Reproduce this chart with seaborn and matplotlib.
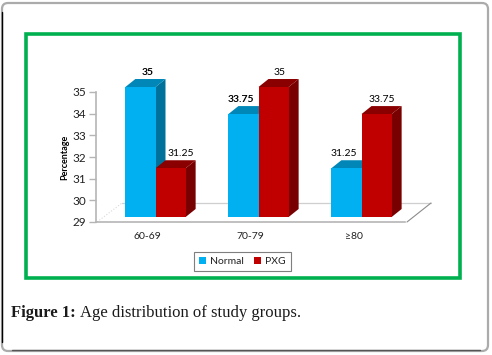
import pandas as pd
import matplotlib
matplotlib.use('Agg')
import matplotlib.pyplot as plt
import seaborn as sns
from matplotlib.patches import FancyBboxPatch, Polygon, Rectangle
from matplotlib.transforms import IdentityTransform

# ── Data ───────────────────────────────────────────────
age_groups = ['60-69', '70-79', '≥80']
normal = [35, 33.75, 31.25]
pxg = [31.25, 35, 33.75]
y_ticks = [29, 30, 31, 32, 33, 34, 35]

W, H = 492, 355
DEPTH_X, DEPTH_Y = 10, 8

df = pd.DataFrame({
    'age': age_groups * 2,
    'pct': normal + pxg,
    'group': ['Normal'] * 3 + ['PXG'] * 3,
})

sns.set_theme(style='white')
plt.rcParams['font.family'] = ['Lato', 'DejaVu Sans']


def px_axes(left, top, right, bottom, **kw):
    # axes placed by pixel box, y counted from the top of the image
    return fig.add_axes([left / W, 1 - bottom / H, (right - left) / W, (bottom - top) / H], **kw)


fig = plt.figure(figsize=(W / 100, H / 100), dpi=100, facecolor='white')

# ── Page frame, green box, floor ───────────────────────
bg = px_axes(0, 0, W, H, zorder=0)
bg.set_xlim(0, W)
bg.set_ylim(H, 0)
bg.axis('off')
bg.add_patch(FancyBboxPatch((7, 8), 476, 338, boxstyle='round,pad=5,rounding_size=6',
                            fc='white', ec='#ababab', lw=1.6, clip_on=False))
bg.plot([2, 2], [12, 342], color='black', lw=1.0)
bg.plot([12, 480], [350, 350], color='#555555', lw=1.0)
bg.add_patch(Rectangle((25.5, 34), 434, 244, fc='white', ec='#00b050', lw=2.6))
bg.plot([122, 431], [203, 203], color='#cfcfcf', lw=0.9)
bg.plot([407, 431], [222, 203], color='#8c8c8c', lw=0.8)
bg.plot([97, 122], [222, 203], color='#d9d9d9', lw=0.8, ls=':')

# ── Back wall: holds the scale and the labels ──────────
wall = px_axes(96, 92, 405, 222, zorder=1)
wall.patch.set_alpha(0)
wall.set_xlim(-0.5, 2.5)
wall.set_ylim(y_ticks[0], y_ticks[-1])
wall.set_xticks(range(len(age_groups)), age_groups)
wall.set_yticks(y_ticks)
wall.tick_params(axis='y', length=5, width=1, color='#b5b5b5', left=True, pad=2, labelsize=8.5, labelcolor='#222222')
wall.tick_params(axis='x', length=0, pad=7, labelsize=7.5, labelcolor='#222222')
wall.set_ylabel('Percentage', fontsize=6.5, fontweight='bold', color='black', labelpad=2)
for side in ['top', 'right']:
    wall.spines[side].set_visible(False)
for side in ['left', 'bottom']:
    wall.spines[side].set_color('#b5b5b5')
    wall.spines[side].set_linewidth(1.2)

# ── Front faces ────────────────────────────────────────
ax = px_axes(104, 87, 413, 217, zorder=2)
ax.patch.set_alpha(0)
sns.barplot(data=df, x='age', y='pct', hue='group', palette=['#00b0f0', '#c00000'],
            width=0.585, gap=0, saturation=1, ax=ax, order=age_groups, zorder=3,
            edgecolor='none', linewidth=0)
ax.set_xlim(-0.5, 2.5)
ax.set_ylim(y_ticks[0], y_ticks[-1])
ax.set_xticks([])
ax.set_yticks([])
ax.set_xlabel('')
ax.set_ylabel('')
sns.despine(ax=ax, left=True, bottom=True)

# ── 3D sides and tops, from the bars' own positions ────
face_colors = [('#0087b8', '#00719a'), ('#8a0000', '#780000')]
label_shift = [[7, -3, -3], [10, 6, 5]]
bold = [[True, True, False], [False, False, False]]

for i, bars in enumerate(ax.containers):
    top_col, side_col = face_colors[i]
    for j, bar in enumerate(bars):
        x0, base = ax.transData.transform((bar.get_x(), y_ticks[0]))
        x1, top = ax.transData.transform((bar.get_x() + bar.get_width(), bar.get_height()))
        ax.add_patch(Polygon([(x1, base), (x1 + DEPTH_X, base + DEPTH_Y), (x1 + DEPTH_X, top + DEPTH_Y), (x1, top)],
                             fc=side_col, ec='none', transform=IdentityTransform(), clip_on=False, zorder=1 + i))
        ax.add_patch(Polygon([(x0, top), (x0 + DEPTH_X, top + DEPTH_Y), (x1 + DEPTH_X, top + DEPTH_Y), (x1, top)],
                             fc=top_col, ec='none', transform=IdentityTransform(), clip_on=False, zorder=1 + i))
        ax.annotate(f'{bar.get_height():g}', (bar.get_x() + bar.get_width() / 2, bar.get_height()),
                    xytext=(label_shift[i][j] * 0.72, 7.5), textcoords='offset points', ha='center', va='bottom',
                    fontsize=7.5, color='black', fontweight='bold' if bold[i][j] else 'normal',
                    annotation_clip=False)

# ── Legend ─────────────────────────────────────────────
sns.move_legend(ax, 'center', bbox_to_anchor=(242.5 / W, 1 - 261.5 / H), bbox_transform=fig.transFigure,
                ncol=2, title=None, frameon=True, fancybox=False, edgecolor='#7f7f7f', framealpha=1,
                fontsize=7.5, handlelength=0.65, handleheight=0.7, handletextpad=0.4, columnspacing=1.0,
                borderpad=0.5, labelcolor='#222222')
ax.get_legend().get_frame().set_linewidth(0.8)

# ── Caption ────────────────────────────────────────────
cap_y = 1 - 317 / H
bold_part = fig.text(11 / W, cap_y, 'Figure 1:', family='Liberation Serif', fontsize=12,
                     fontweight='bold', color='#1a1a1a')
fig.canvas.draw()
end = bold_part.get_window_extent().x1
fig.text((end + 4) / W, cap_y, 'Age distribution of study groups.', family='Liberation Serif',
         fontsize=12, color='#1a1a1a')

fig.savefig('out.png', dpi=100)
print("saved")
